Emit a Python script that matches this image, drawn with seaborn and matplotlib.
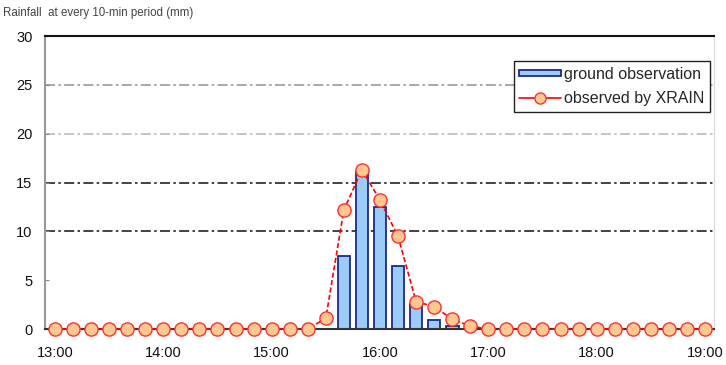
import pandas as pd
import matplotlib.pyplot as plt
import seaborn as sns
from matplotlib.patches import Rectangle
from matplotlib.lines import Line2D
from matplotlib.legend_handler import HandlerPatch

# Data: 10-minute slots from 13:00 to 19:00 (37 slots)
slots = list(range(37))
hour_labels = ['13:00', '14:00', '15:00', '16:00', '17:00', '18:00', '19:00']
ground_obs = [0] * 16 + [7.5, 16.1, 12.5, 6.5, 2.6, 0.9, 0.35] + [0] * 14
xrain_obs = [0] * 15 + [1.1, 12.2, 16.3, 13.2, 9.5, 2.8, 2.3, 1.0, 0.3] + [0] * 13

df = pd.DataFrame({'slot': slots, 'ground': ground_obs, 'xrain': xrain_obs})

sns.set_theme(style="white")
plt.rcParams['font.family'] = ['Liberation Sans', 'DejaVu Sans']

fig = plt.figure(figsize=(7.26, 3.65), dpi=100)
ax = fig.add_axes([0.062, 0.0986, 0.9215, 0.8027])

# gridlines (none at 5)
for yv, col in [(10, '#222222'), (15, '#222222'), (20, '#bbbbbb'), (25, '#999999')]:
    ax.axhline(yv, color=col, lw=1.2, dashes=(6, 2, 1.5, 2), zorder=0)

bars = df[df['ground'] > 0]
sns.barplot(data=bars, x='slot', y='ground', native_scale=True, width=0.7,
            color='#9CCBF8', saturation=1, edgecolor='#1A2A8C', linewidth=1.3,
            ax=ax, zorder=2)

sns.lineplot(data=df, x='slot', y='xrain', ax=ax, color='red', lw=1.2,
             linestyle=(0, (3, 1.5)), marker='o', markersize=9.5,
             markerfacecolor='#FFC890', markeredgecolor='#FF3030',
             markeredgewidth=1, zorder=3, clip_on=False)

ax.set_xlim(-0.55, 36.5)
ax.set_ylim(0, 30)
ax.set_xticks(range(0, 37, 6))
ax.set_xticklabels(hour_labels)
ax.set_yticks(range(0, 31, 5))
ax.set_xlabel('')
ax.set_ylabel('')

ax.tick_params(axis='x', direction='in', length=4, width=1, color='#333333',
               pad=12, labelsize=10.5, labelcolor='#111111', bottom=True)
ax.tick_params(axis='y', direction='in', length=3, width=0.8, color='#888888',
               pad=9, labelsize=10.5, labelcolor='#111111', left=True)

ax.spines['top'].set_color('#111111')
ax.spines['top'].set_linewidth(1.5)
ax.spines['left'].set_color('#999999')
ax.spines['left'].set_linewidth(1.5)
ax.spines['bottom'].set_color('#333333')
ax.spines['bottom'].set_linewidth(1.5)
ax.spines['right'].set_color('#dddddd')
ax.spines['right'].set_linewidth(1)

# legend
def thin_rect(legend, orig_handle, xdescent, ydescent, width, height, fontsize):
    return Rectangle((-xdescent, -ydescent + height * 0.2), width, height * 0.55)

bar_handle = Rectangle((0, 0), 1, 1, facecolor='#9CCBF8', edgecolor='#1A2A8C', lw=1.3)
line_handle = Line2D([], [], color='red', lw=1.2, marker='o', markersize=8,
                     markerfacecolor='#FFC890', markeredgecolor='#FF3030')
leg = ax.legend([bar_handle, line_handle], ['ground observation', 'observed by XRAIN'],
                loc='upper right', bbox_to_anchor=(0.994, 0.915), borderaxespad=0,
                fontsize=11.5, frameon=True, fancybox=False, framealpha=1,
                edgecolor='#222222', handlelength=2.6, handletextpad=0.2,
                labelspacing=0.6, borderpad=0.35,
                handler_map={Rectangle: HandlerPatch(patch_func=thin_rect)})
leg.get_frame().set_linewidth(1.0)
leg.set_zorder(5)

fig.text(0.004, 0.965, 'Rainfall  at every 10-min period (mm)', fontsize=8.3,
         color='#444444', ha='left', va='center')

fig.savefig('out.png', dpi=100)
